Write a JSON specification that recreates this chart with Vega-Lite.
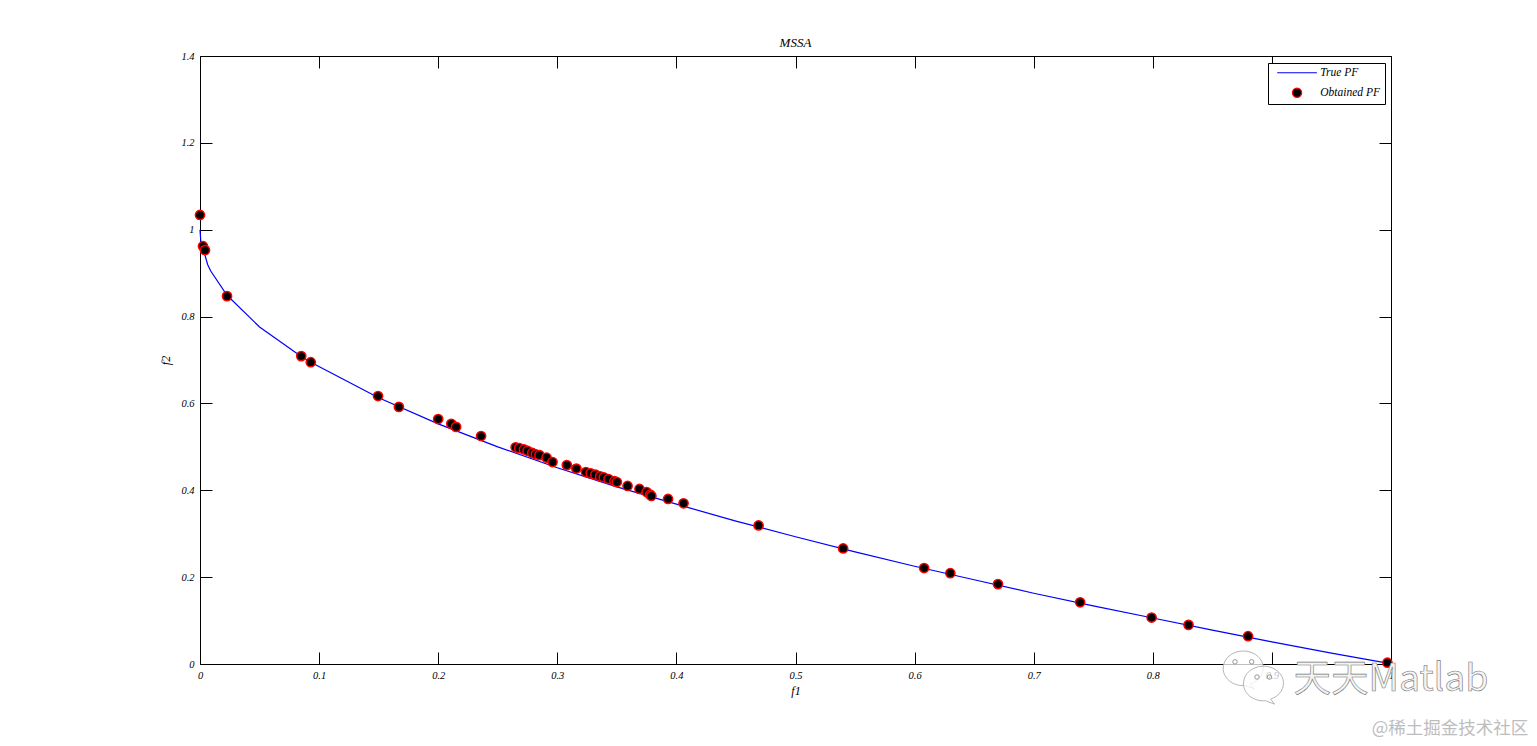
{
"$schema":"https://vega.github.io/schema/vega-lite/v6.json",
"width":1191,"height":608,
"autosize":{"type":"none"},
"padding":{"left":200,"top":56,"right":146,"bottom":82},
"background":"white",
"title":{"text":"MSSA","font":"Liberation Serif","fontStyle":"italic","fontWeight":"normal","fontSize":13,"color":"black","offset":1},
"config":{"view":{"stroke":"black","strokeWidth":1}},
"datasets":{
"front":[
{"f1":0,"f2":1},{"f1":0.0006,"f2":0.976},{"f1":0.0064,"f2":0.92},{"f1":0.009,"f2":0.905},{"f1":0.0227,"f2":0.849},{"f1":0.05,"f2":0.776},{"f1":0.085,"f2":0.708},{"f1":0.093,"f2":0.695},{"f1":0.15,"f2":0.613},{"f1":0.2,"f2":0.553},{"f1":0.25,"f2":0.5},{"f1":0.3,"f2":0.452},{"f1":0.35,"f2":0.408},{"f1":0.4,"f2":0.368},{"f1":0.45,"f2":0.329},{"f1":0.5,"f2":0.293},{"f1":0.55,"f2":0.258},{"f1":0.6,"f2":0.225},{"f1":0.65,"f2":0.194},{"f1":0.7,"f2":0.163},{"f1":0.75,"f2":0.134},{"f1":0.8,"f2":0.106},{"f1":0.85,"f2":0.078},{"f1":0.9,"f2":0.051},{"f1":0.95,"f2":0.025},{"f1":0.997,"f2":0.002}
],
"obtained":[
{"f1":0,"f2":1.034},{"f1":0.0025,"f2":0.962},{"f1":0.0042,"f2":0.953},{"f1":0.0227,"f2":0.847},{"f1":0.085,"f2":0.709},{"f1":0.093,"f2":0.695},{"f1":0.1495,"f2":0.617},{"f1":0.167,"f2":0.592},{"f1":0.2,"f2":0.564},{"f1":0.211,"f2":0.553},{"f1":0.215,"f2":0.546},{"f1":0.236,"f2":0.525},
{"f1":0.265,"f2":0.499},{"f1":0.268,"f2":0.497},{"f1":0.272,"f2":0.494},{"f1":0.275,"f2":0.491},{"f1":0.279,"f2":0.486},{"f1":0.282,"f2":0.483},{"f1":0.285,"f2":0.481},{"f1":0.291,"f2":0.475},{"f1":0.296,"f2":0.465},{"f1":0.308,"f2":0.458},{"f1":0.316,"f2":0.45},{"f1":0.324,"f2":0.442},{"f1":0.328,"f2":0.439},{"f1":0.332,"f2":0.436},{"f1":0.336,"f2":0.432},{"f1":0.339,"f2":0.43},{"f1":0.343,"f2":0.426},{"f1":0.348,"f2":0.421},{"f1":0.35,"f2":0.419},{"f1":0.359,"f2":0.41},{"f1":0.369,"f2":0.403},{"f1":0.375,"f2":0.396},{"f1":0.378,"f2":0.39},{"f1":0.379,"f2":0.387},{"f1":0.393,"f2":0.38},{"f1":0.406,"f2":0.37},{"f1":0.469,"f2":0.319},{"f1":0.54,"f2":0.266},{"f1":0.608,"f2":0.221},{"f1":0.63,"f2":0.209},{"f1":0.67,"f2":0.184},{"f1":0.739,"f2":0.142},{"f1":0.799,"f2":0.107},{"f1":0.83,"f2":0.09},{"f1":0.88,"f2":0.064},{"f1":0.997,"f2":0.003}
],
"bubbles":[{"f1":0.876,"f2":-0.009},{"f1":0.893,"f2":-0.044}],
"eyes":[{"f1":0.869,"f2":0.005},{"f1":0.883,"f2":0.005},{"f1":0.8875,"f2":-0.03},{"f1":0.898,"f2":-0.03}],
"mark1":[{"f1":1.0,"f2":-0.037,"label":"天天Matlab"}],
"mark2":[{"f1":1.0495,"f2":-0.15,"label":"@稀土掘金技术社区"}]
},
"layer":[
{"data":{"name":"front"},"transform":[{"calculate":"'True PF'","as":"series"}],
 "mark":{"type":"line","strokeWidth":1.2,"interpolate":"linear"},
 "encoding":{
  "x":{"field":"f1","type":"quantitative","scale":{"domain":[0,1],"nice":false,"zero":false},
   "axis":{"orient":"bottom","title":"f1","format":"~g","values":[0,0.1,0.2,0.3,0.4,0.5,0.6,0.7,0.8,0.9,1],"grid":false,"domain":false,"tickSize":-12,"tickColor":"black","labelColor":"black","labelFont":"Liberation Serif","labelFontStyle":"italic","labelFontSize":10.5,"labelPadding":18,"labelFlush":false,"labelOverlap":false,"titleFont":"Liberation Serif","titleFontStyle":"italic","titleFontWeight":"normal","titleFontSize":12,"titleColor":"black","titlePadding":5}},
  "y":{"field":"f2","type":"quantitative","scale":{"domain":[0,1.4],"nice":false,"zero":false},
   "axis":{"orient":"left","title":"f2","format":"~g","values":[0,0.2,0.4,0.6,0.8,1,1.2,1.4],"grid":false,"domain":false,"tickSize":-12,"tickColor":"black","labelColor":"black","labelFont":"Liberation Serif","labelFontStyle":"italic","labelFontSize":10.5,"labelPadding":18,"labelFlush":false,"labelOverlap":false,"titleFont":"Liberation Serif","titleFontStyle":"italic","titleFontWeight":"normal","titleFontSize":12,"titleColor":"black","titlePadding":8}},
  "stroke":{"field":"series","type":"nominal","scale":{"domain":["True PF","Obtained PF"],"range":["#0000ff","#ff0000"]},
   "legend":{"title":null,"orient":"none","legendX":1068,"legendY":7,"fillColor":"white","strokeColor":"black","padding":4,"labelFont":"Liberation Serif","labelFontStyle":"italic","labelFontSize":11.5,"labelColor":"black","symbolSize":85,"rowPadding":6,"symbolOffset":19.3,"labelOffset":17.5,"symbolStrokeWidth":1.2}}
 }},
{"data":{"name":"obtained"},"transform":[{"calculate":"'Obtained PF'","as":"series"}],
 "mark":{"type":"point","filled":true,"opacity":1,"strokeWidth":1.5,"size":85},
 "encoding":{
  "x":{"field":"f1","type":"quantitative","scale":{"domain":[0,1],"nice":false,"zero":false},
   "axis":{"orient":"top","title":null,"values":[0,0.1,0.2,0.3,0.4,0.5,0.6,0.7,0.8,0.9,1],"grid":false,"domain":false,"labels":false,"tickSize":-12,"tickColor":"black"}},
  "y":{"field":"f2","type":"quantitative","scale":{"domain":[0,1.4],"nice":false,"zero":false},
   "axis":{"orient":"right","title":null,"values":[0,0.2,0.4,0.6,0.8,1,1.2,1.4],"grid":false,"domain":false,"labels":false,"tickSize":-12,"tickColor":"black"}},
  "stroke":{"field":"series","type":"nominal","scale":{"domain":["True PF","Obtained PF"],"range":["#0000ff","#ff0000"]}},
  "fill":{"field":"series","type":"nominal","scale":{"domain":["True PF","Obtained PF"],"range":["transparent","#000000"]},"legend":{"title":null}},
  "shape":{"field":"series","type":"nominal","scale":{"domain":["True PF","Obtained PF"],"range":["M-4.3,0H4.3","circle"]},"legend":{"title":null}}
 }},
{"data":{"name":"bubbles"},
 "mark":{"type":"point","filled":true,"fill":"#ffffff","fillOpacity":0.75,"stroke":"#b5b5b5","strokeWidth":1,"size":1600,"opacity":1,"shape":"M-1,-0.05A1,0.85 0 1 1 0.35,0.8L0.55,1.05L0.1,0.88A1,0.85 0 0 1 -1,-0.05Z"},
 "encoding":{"x":{"field":"f1","type":"quantitative","axis":null,"scale":{"domain":[0,1],"nice":false,"zero":false}},"y":{"field":"f2","type":"quantitative","axis":null,"scale":{"domain":[0,1.4],"nice":false,"zero":false}}}},
{"data":{"name":"eyes"},
 "mark":{"type":"point","filled":false,"stroke":"#999999","strokeWidth":1,"size":20,"opacity":1},
 "encoding":{"x":{"field":"f1","type":"quantitative","axis":null,"scale":{"domain":[0,1],"nice":false,"zero":false}},"y":{"field":"f2","type":"quantitative","axis":null,"scale":{"domain":[0,1.4],"nice":false,"zero":false}}}},
{"data":{"name":"mark1"},
 "mark":{"type":"text","font":"Noto Sans CJK SC","fontSize":37.5,"fill":"#f4f4f4","stroke":"#777777","strokeWidth":0.6,"align":"center","baseline":"middle"},
 "encoding":{"x":{"field":"f1","type":"quantitative","axis":null,"scale":{"domain":[0,1],"nice":false,"zero":false}},"y":{"field":"f2","type":"quantitative","axis":null,"scale":{"domain":[0,1.4],"nice":false,"zero":false}},"text":{"field":"label"}}},
{"data":{"name":"mark2"},
 "mark":{"type":"text","font":"Noto Sans CJK SC","fontSize":17.5,"fill":"#bdbdbd","align":"center","baseline":"middle"},
 "encoding":{"x":{"field":"f1","type":"quantitative","axis":null,"scale":{"domain":[0,1],"nice":false,"zero":false}},"y":{"field":"f2","type":"quantitative","axis":null,"scale":{"domain":[0,1.4],"nice":false,"zero":false}},"text":{"field":"label"}}}
],
"resolve":{"axis":{"x":"independent","y":"independent"}}
}
